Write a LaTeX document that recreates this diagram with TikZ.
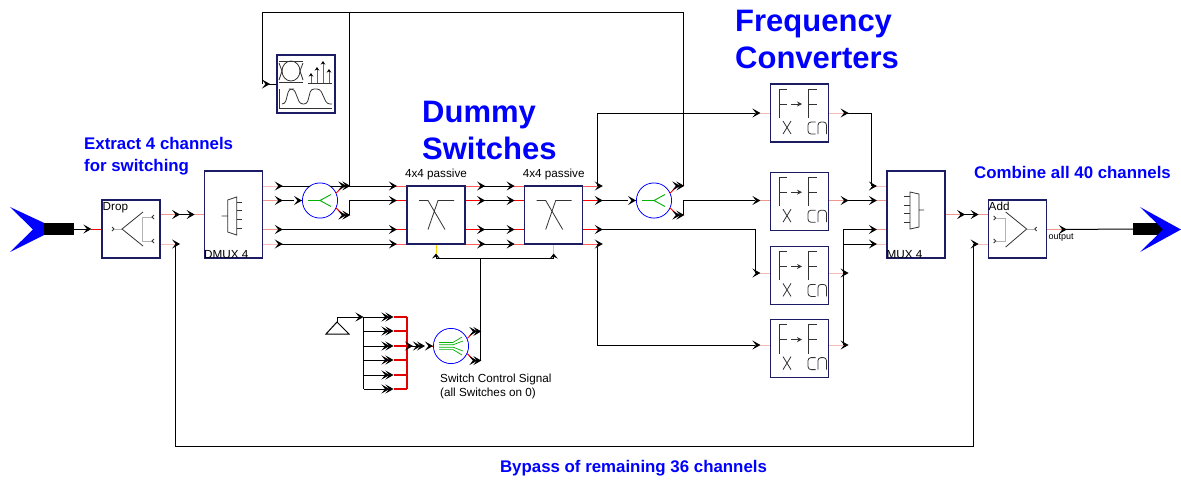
\documentclass[tikz,border=0pt]{standalone}
\usepackage{fontspec}
\setmainfont{Liberation Sans}
\usetikzlibrary{arrows.meta,positioning}
\definecolor{navy}{RGB}{28,28,100}
\definecolor{pale}{RGB}{240,150,140}

\begin{document}
\begin{tikzpicture}[
  x=1pt,y=-1pt,
  box/.style={draw=navy,line width=1.2pt,fill=white,minimum width=58pt,minimum height=58pt,inner sep=0pt},
  tall/.style={box,minimum height=87pt},
  ring/.style={circle,draw=blue,line width=1pt,fill=white,minimum size=35pt,inner sep=0pt},
  wire/.style={line width=1pt},
  tipr/.tip={Stealth[length=8pt,width=9pt,inset=3.5pt,color=black]},
  tipl/.tip={Stealth[length=8pt,width=9pt,inset=3.5pt,color=black,reversed]},
  arr/.style={wire,-tipr},
  outstub/.style={wire,-tipr},
  instub/.style={wire,-tipl},
  dbl/.style={wire,-{tipr[sep=-4pt]tipr}},
  icon/.style={line width=0.8pt,black!80},
  faint/.style={line width=0.8pt,black!30},
  big/.style={text=blue,font=\fontsize{31}{37}\selectfont\bfseries,align=left,inner sep=0pt},
  mid/.style={text=blue,font=\fontsize{16.85}{22}\selectfont\bfseries,align=left,inner sep=0pt},
  small/.style={font=\fontsize{11.7}{14}\selectfont,align=left,inner sep=0pt},
  pics/fconv/.style={code={
    \draw[icon] (-12.5,-24) -- (-20.5,-24) -- (-20.5,5) (-20.5,-9) -- (-12.5,-9);
    \draw[icon,-{Stealth[length=5pt,width=5pt]}] (-8.5,-9) -- (2.5,-9);
    \draw[icon] (17.5,-24) -- (8.5,-24) -- (8.5,5) (8.5,-9) -- (17.5,-9);
    \draw[icon] (-16.5,8) -- (-8.5,21) (-8.5,8) -- (-16.5,21);
    \draw[icon,rounded corners=3pt] (16,9) -- (8.5,9) -- (8.5,21) -- (16,21);
    \draw[icon,rounded corners=3pt] (18.5,21) -- (18.5,9) -- (27,9) -- (27,21);
  }},
  pics/xcross/.style={code={
    \draw[icon] (-17,-14.5) -- (-8,-14.5) -- (9,14.5) (18,-14.5) -- (2,-14.5) -- (-8,14.5);
  }},
  pics/split/.style={code={
    \draw[green!70!black,line width=0.9pt] (-12,0) -- (0,0) -- (11,-6) (0,0) -- (11,6);
  }},
  pics/splitsix/.style={code={
    \draw[green!70!black,line width=0.7pt] (-12,-3.6) -- (2,-3.6) -- (11,-9) (-12,-1.2) -- (2,-1.2) -- (12,-5)
      (-12,1.2) -- (2,1.2) -- (12,5) (-12,3.6) -- (2,3.6) -- (11,9);
  }}
]
\useasboundingbox (0,0) rectangle (1181,480);

% row levels of the ports
\foreach \r/\y in {113/113,186/186,200/200.5,214/214.5,229/229.5,244/244,273/273,345/345,446/446}
  \coordinate (r\r) at (0,\y);
\coordinate (up1) at (349,12);
\coordinate (up2) at (683,12);
\coordinate (up3) at (262,12);
\coordinate (bus) at (480,258.5);
\coordinate (ctl) at (363.5,317);
\coordinate (joint) at (407,346);

% ============================================================
% BLOCKS
% ============================================================

\node[box] (Drop) at (131,229) {};
\node[tall,right=43.5pt of Drop,yshift=14.5pt] (DMUX) {};
\node[box] (SW1) at (436,215) {};
\node[box,right=58.5pt of SW1] (SW2) {};
\node[box] (FC1) at (799.5,113) {};
\node[box,below=29pt of FC1] (FC2) {};
\node[box,below=15pt of FC2] (FC3) {};
\node[box,below=14pt of FC3] (FC4) {};
\node[tall] (MUX) at (916,214.5) {};
\node[box,right=42.5pt of MUX,yshift=-14.5pt] (Add) {};
\node[box] (Mon) at (306,84) {};
\node[ring] (Cir1) at (320,200.5) {};
\node[ring] (Cir2) at (654,200.5) {};
\node[ring] (Cir3) at (451,346) {};
\node[fill=black,minimum width=30pt,minimum height=12pt,inner sep=0pt] (Src) at (59,229) {};
\node[fill=black,minimum width=30pt,minimum height=12pt,inner sep=0pt] (Snk) at (1148,229) {};
\fill[blue] (Src.north west) -- (10,207) -- (33,229.5) -- (10,252) -- (Src.south west) -- cycle;
\fill[blue] (1140,207) -- (1181,229.5) -- (1140,252) -- (1163,229.5) -- cycle;

% ============================================================
% PORT STUBS
% ============================================================

\foreach \b/\r/\c in {Drop/214/pale,Drop/244/pale,DMUX/186/pale,DMUX/200/pale,DMUX/229/pale,DMUX/244/pale,
    SW1/186/red,SW1/200/red,SW1/229/red,SW1/244/red,SW2/186/red,SW2/200/red,SW2/229/red,SW2/244/red,
    FC1/113/pale,FC2/200/pale,FC3/273/pale,FC4/345/pale,MUX/214/pale,Add/229/pale}
  \draw[outstub,\c] (\b.east |- r\r) -- ++(14.5,0) coordinate (\b-\r-o) -- ++(5,0);
\foreach \b/\r/\c in {DMUX/214/pale,SW1/186/red,SW1/200/red,SW1/229/red,SW1/244/red,
    SW2/186/red,SW2/200/red,SW2/229/red,SW2/244/red,
    FC1/113/pale,FC2/200/pale,FC3/273/pale,FC4/345/pale,MUX/186/pale,MUX/200/pale,MUX/229/pale,MUX/244/pale,
    Add/214/pale,Add/244/pale}
  \draw[instub,\c] (\b.west |- r\r) -- ++(-14.5,0) coordinate (\b-\r-i) -- ++(-3,0);
\foreach \c in {Cir1,Cir2,Cir3} {
  \draw[instub,red] (\c.west) -- ++(-8,0) coordinate (\c-i);
  \draw[wire,red] (\c.25) -- ++(7,-7) coordinate (\c-u);
  \draw[wire,red] (\c.-25) -- ++(7,7) coordinate (\c-d);
  \draw[dbl,red] (\c-u) -- ++(7,0) coordinate (\c-ue);
  \draw[dbl,red] (\c-d) -- ++(7,0) coordinate (\c-de);
}

% ============================================================
% WIRES
% ============================================================

\draw[arr] (Src.east) -- ([xshift=-10pt]Drop.west);
\draw[wire,red] ([xshift=-10pt]Drop.west) -- (Drop.west);
\draw[wire] (Drop-214-o) -- (DMUX-214-i);
\draw[wire] (Drop-244-o) -- (Drop-244-o |- r446) -| (Add-244-i);
\draw[wire] (DMUX-186-o) -- (SW1-186-i);
\draw[wire] (DMUX-200-o) -- (Cir1-i);
\draw[wire] (DMUX-229-o) -- (SW1-229-i);
\draw[wire] (DMUX-244-o) -- (SW1-244-i);
\foreach \r in {186,200,229,244}
  \draw[wire] (SW1-\r-o) -- (SW2-\r-i);

% monitor branch, and the line over to the second tap
\draw[wire] (up1 |- r186) -- (up1) -- (up3) -- (up3 |- Mon);
\draw[wire,-tipl] (Mon.west) -- (up3 |- Mon);
\draw[wire] (up1) -- (up2) -- (up2 |- r186);
\draw[wire] (up1 |- r214) -- (up1 |- r200) -- (SW1-200-i);

\draw[wire] (SW2-186-o) -- (SW2-186-o |- r113) -- (FC1-113-i);
\draw[wire] (SW2-200-o) -- (Cir2-i);
\draw[wire] (up2 |- r214) -- (up2 |- r200) -- (FC2-200-i);
\draw[wire] (SW2-229-o) -| (FC3-273-i);
\draw[wire] (SW2-244-o) |- (FC4-345-i);

\draw[wire] (FC1-113-o) -| (MUX-186-i);
\draw[wire] (FC2-200-o) -- (MUX-200-i);
\draw[wire] (FC4-345-o) |- (MUX-229-i);
\draw[wire] (FC3-273-o |- r244) -- (MUX-244-i);
\draw[wire] (FC3-273-o) -- (FC3-273-o |- r244);
\draw[wire] (MUX-214-o) -- (Add-214-i);
\draw[wire] (Add-229-o) -- (Snk.west);

% ============================================================
% CONTROL
% ============================================================

\draw[wire,yellow!85!red] (SW1.south) -- ++(0,9) coordinate (SW1-c);
\draw[wire,yellow!85!red] (SW2.south) -- ++(0,9) coordinate (SW2-c);
\draw[wire,-{Stealth[length=5pt,width=8pt,inset=2pt]}] (SW1-c |- bus) -- (SW1-c);
\draw[wire,-{Stealth[length=5pt,width=8pt,inset=2pt]}] (SW2-c |- bus) -- (SW2-c);
\draw[wire] (SW1-c |- bus) -- (SW2-c |- bus);
\draw[wire] (bus) -- (bus |- Cir3-d);
\draw[wire] (326,334) -- (349,334) -- (337,322) -- cycle;
\draw[arr] (337,322) -- (337,317) -- (ctl);
\draw[wire] (ctl) -- (ctl |- 0,389);
\foreach \r in {317,331,346,360,375,389} {
  \draw[dbl] (ctl |- 0,\r) -- ++(30,0);
  \draw[line width=1.1pt,red!90!black] (ctl |- 0,\r) ++(30,0) -- (joint |- 0,\r);
}
\draw[line width=1.1pt,red!90!black] (joint |- 0,317) -- (joint |- 0,389);
\draw[arr] (joint) -- ++(6,0);
\draw[dbl] (joint) -- (Cir3-i);

% ============================================================
% ICONS
% ============================================================

\foreach \c in {Cir1,Cir2,Cir3} \fill[white] (\c) circle (17pt);
\pic at (Cir1) {split};
\pic at (Cir2) {split};
\pic at (Cir3) {splitsix};
\pic at (SW1) {xcross};
\pic at (SW2) {xcross};
\foreach \b in {FC1,FC2,FC3,FC4} \pic at (\b) {fconv};

% drop and add
\begin{scope}[shift={(Drop.center)}]
  \draw[icon] (-19,-2) -- (-17,0) -- (-19,2);
  \draw[faint] (-17,0) -- (-9,0) (11,-12) -- (11,12) (11,-12) -- (21,-12) (11,12) -- (21,12);
  \draw[icon] (12,-17) -- (-9,0) -- (12,17);
  \draw[icon] (23,-14) -- (21,-12) -- (23,-10) (23,10) -- (21,12) -- (23,14);
\end{scope}
\begin{scope}[shift={(Add.center)}]
  \draw[icon] (-24,-13) -- (-22,-11) -- (-24,-9) (-24,10) -- (-22,12) -- (-24,14);
  \draw[faint] (-22,-11) -- (-12,-11) (-22,12) -- (-12,12) (-12,-11) -- (-12,12) (9,0) -- (16,0);
  \draw[icon] (-12,-17) -- (9,0) -- (-12,18);
  \draw[icon] (19,-2) -- (17,0) -- (19,2);
\end{scope}

% mux shapes
\begin{scope}[shift={(DMUX.center)}]
  \draw[icon] (-6,-14.5) -- (3,-17.5) -- (3,20.5) -- (-6,17.5) -- cycle (-12,1.5) -- (-6,1.5);
  \foreach \y in {-12.5,-4.5,4.5,13.5} \draw[icon] (3,\y) -- (8.5,\y);
\end{scope}
\begin{scope}[shift={(MUX.center)}]
  \draw[icon] (-6,-22.5) -- (3,-20.5) -- (3,12.5) -- (-6,14.5) -- cycle (3,-4.5) -- (8,-4.5);
  \foreach \y in {-18.5,-9.5,-1,8} \draw[icon] (-12,\y) -- (-6,\y);
\end{scope}

% analyser
\begin{scope}[shift={(Mon.center)}]
  \draw[icon] (-27,-23) -- (-3,-23) (-27,-2) -- (-3,-2);
  \draw[icon] (-15,-13) ellipse (9 and 10);
  \draw[icon] (-27,-21) -- (-24,-13) -- (-27,-4) (-3,-21) -- (-6,-13) -- (-3,-4);
  \draw[icon] (2,-1) -- (26,-1);
  \foreach \x/\t in {5/-11,11/-17,17/-23,23/-15}
    \draw[icon,black!60,line width=1pt,-{Stealth[length=3.5pt,width=4.5pt,color=black]}] (\x,-1) -- (\x,\t);
  \draw[icon] (-27,5) -- (-27,24) -- (26,24);
  \draw[icon,rounded corners=3pt] (-24,20) -- (-21,20) -- (-17,5) -- (-12,5) -- (-6,20) -- (1,20) -- (5,5) -- (14,5) -- (21,20) -- (26,20);
\end{scope}

% ============================================================
% LABELS
% ============================================================

\node[big,anchor=north west] (TitleFC) at (735,10) {Frequency\\Converters};
\node[big,anchor=north west] (TitleSW) at (422,101) {Dummy\\Switches};
\node[mid,anchor=north west] (TitleEx) at (84,137) {Extract 4 channels\\for switching};
\node[mid,anchor=west] (TitleCo) at (974,172) {Combine all 40 channels};
\node[mid] (TitleBy) at (633.5,468.5) {Bypass of remaining 36 channels};
\node[small,anchor=north west] (LblDrop) at (102.5,202) {Drop};
\node[small,anchor=base west] (LblDMUX) at (204,258) {DMUX 4};
\node[small,anchor=base west] (LblMUX) at (886.5,258) {MUX 4};
\node[small,anchor=north west] (LblAdd) at (988.5,202) {Add};
\node[font=\fontsize{9}{10}\selectfont,inner sep=0pt] (LblOut) at (1061,238) {output};
\node[small,above=5pt of SW1] (LblSW1) {4x4 passive};
\node[small,above=5pt of SW2] (LblSW2) {4x4 passive};
\node[small,anchor=north west] (LblCtl) at (440,374) {Switch Control Signal\\(all Switches on 0)};

\end{tikzpicture}
\end{document}
